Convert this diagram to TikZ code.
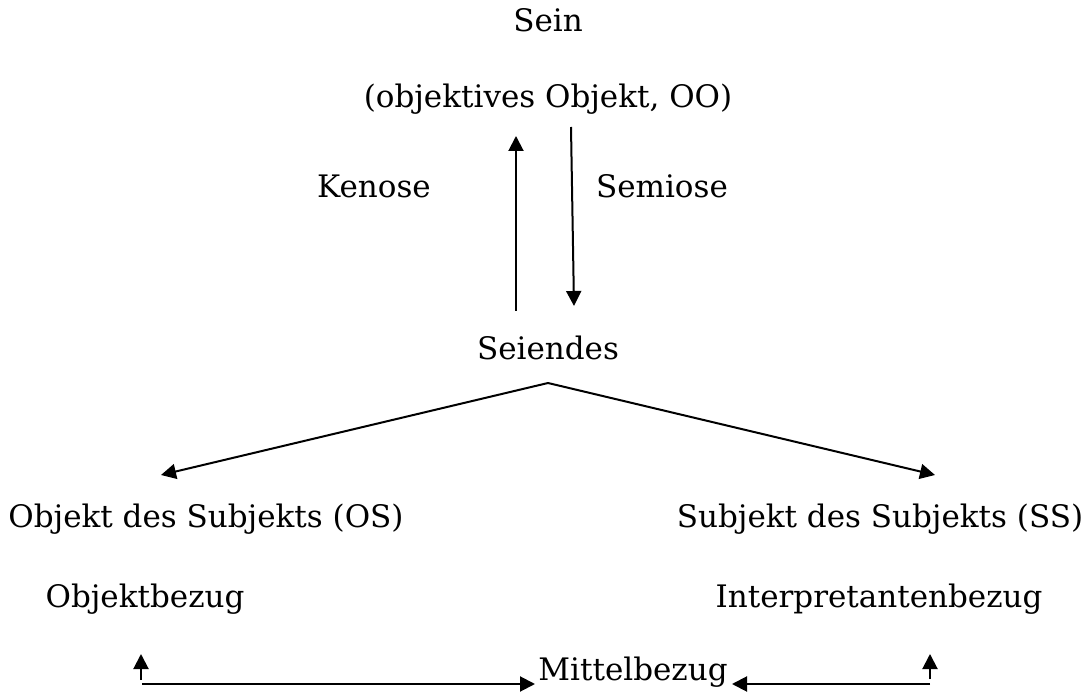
\documentclass[tikz,border=0pt]{standalone}
\usepackage{fontspec}
\setmainfont{DejaVu Serif}
\usetikzlibrary{arrows.meta}
\begin{document}
\begin{tikzpicture}[x=1pt,y=-1pt,
  lbl/.style={inner sep=0pt,font=\fontsize{31}{36}\selectfont,text height=23pt,text depth=7pt},
  arr/.style={-{Triangle[length=15pt,width=15pt]},line width=2pt}]
\useasboundingbox (0,0) rectangle (1088,700);
\node[lbl] (sein) at (548,24) {Sein};
\node[lbl] (oo) at (548,100) {(objektives Objekt, OO)};
\node[lbl] (ken) at (374,190) {Kenose};
\node[lbl] (sem) at (662,190) {Semiose};
\node[lbl] (seiendes) at (548,352) {Seiendes};
\node[lbl] (os) at (206,520) {Objekt des Subjekts (OS)};
\node[lbl] (ss) at (880,520) {Subjekt des Subjekts (SS)};
\node[lbl] (ob) at (145,600) {Objektbezug};
\node[lbl] (ib) at (879,600) {Interpretantenbezug};
\node[lbl] (mb) at (633,672) {Mittelbezug};
% vertical pair between the two upper levels
\coordinate (kenA) at (516,311);
\coordinate (kenB) at (516,136);
\coordinate (semA) at (571,127);
\coordinate (semB) at (574,306);
\draw[arr] (kenA) -- (kenB);
\draw[arr] (semA) -- (semB);
% branching below Seiendes
\coordinate (apex) at (548,383);
\coordinate (osT) at (161,475);
\coordinate (ssT) at (935,475);
\draw[arr] (apex) -- (osT);
\draw[arr] (apex) -- (ssT);
% bottom links
\coordinate (obL) at (141,680);
\coordinate (obT) at (141,654);
\coordinate (hL) at (142,684);
\coordinate (mbL) at (535,684);
\draw[arr] (obL) -- (obT);
\draw[arr] (hL) -- (mbL);
\coordinate (ibL) at (930,679);
\coordinate (ibT) at (930,654);
\coordinate (hR) at (930,684);
\coordinate (mbR) at (732,684);
\draw[arr] (ibL) -- (ibT);
\draw[arr] (hR) -- (mbR);
\end{tikzpicture}
\end{document}
